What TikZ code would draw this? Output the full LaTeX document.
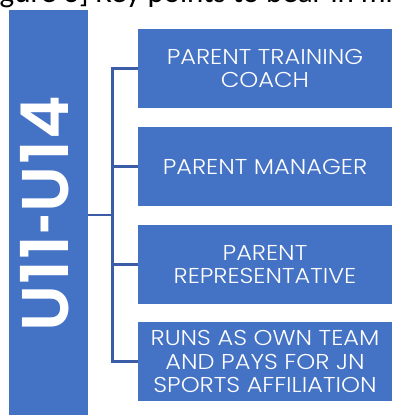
\documentclass[tikz,border=0pt]{standalone}
\usepackage{fontspec}
\setmainfont{Poppins}
\IfFontExistsTF{Poppins Light}{\newfontfamily\boxfont{Poppins Light}[FakeStretch=1.12]}{\newfontfamily\boxfont{Poppins}[FakeStretch=1.12]}
\IfFontExistsTF{Poppins SemiBold}{\newfontfamily\barfont{Poppins SemiBold}}{\newfontfamily\barfont{Poppins}[UprightFont=*,BoldFont=*]}
\newfontfamily\topfont{Carlito}
\definecolor{boxblue}{RGB}{68,114,196}
\definecolor{lineblue}{RGB}{59,93,168}
\tikzset{
  bluebox/.style={fill=boxblue, draw=none, inner sep=0pt, minimum width=254pt, minimum height=79pt,
    text=white, align=center, font=\boxfont\fontsize{21.5}{23.5}\selectfont},
  conn/.style={draw=lineblue, line width=2.5pt},
}
\newcommand\sk{\kern1.25pt}
\begin{document}
\begin{tikzpicture}[x=1pt,y=-1pt]
\useasboundingbox (0,0) rectangle (392,415);
\clip (0,0) rectangle (392,415);
\node[anchor=base west, inner sep=0pt, font=\topfont\fontsize{31}{34}\selectfont] (top) at (-0.5,2.5) {gure 3] Key points to bear in mind};
\node[fill=boxblue, inner sep=0pt, minimum width=79pt, minimum height=410pt, anchor=north west] (bar) at (9,10) {};
\node[rotate=90, inner sep=0pt, text=white, font=\barfont\fontsize{66}{70}\selectfont] (lbl) at (45,214) {U\sk 1\sk 1\sk\scalebox{0.55}[1]{-}\sk U\sk 1\sk 4};
\node[bluebox] (b1) at (265,68.5) {PARENT TRAINING\\COACH};
\node[bluebox] (b2) at (265,166.5) {PARENT MANAGER};
\node[bluebox] (b3) at (265,264.5) {PARENT\\REPRESENTATIVE};
\node[bluebox] (b4) at (265,361.5) {RUNS AS OWN TEAM\\AND PAYS FOR JN\\SPORTS AFFILIATION};
\coordinate (j) at (112.5,215);
\draw[conn] (bar.east |- j) -- (j);
\draw[conn] (b1.west) -- (b1.west -| j) -- (b4.west -| j) -- (b4.west);
\draw[conn] (b2.west -| j) -- (b2.west);
\draw[conn] (b3.west -| j) -- (b3.west);
\end{tikzpicture}
\end{document}
